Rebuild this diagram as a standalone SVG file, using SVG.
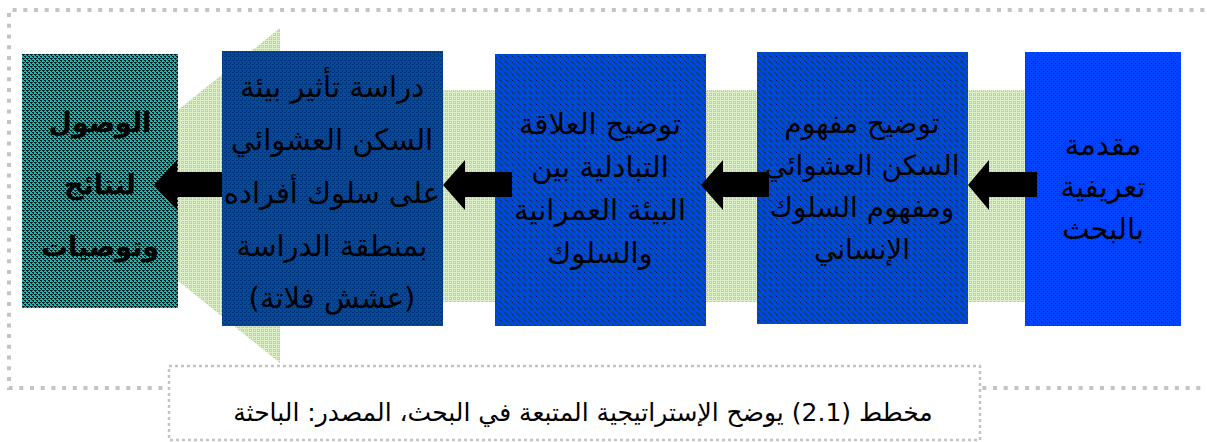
<svg xmlns="http://www.w3.org/2000/svg" width="1207" height="442" viewBox="0 0 1207 442">
<style>
.t{font-family:"DejaVu Sans","Noto Sans",sans-serif;fill:#000;text-anchor:middle;direction:rtl}
.arr{fill:#000}
</style>
<defs>
<pattern id="pGreen" patternUnits="userSpaceOnUse" width="4" height="4">
<rect width="4" height="4" fill="#b4e07e"/>
<rect x="0" y="0" width="4" height="1" fill="#dcf2c4"/>
<rect x="0" y="0" width="1" height="4" fill="#dcf2c4"/>
<rect x="2" y="2" width="1" height="1" fill="#f2fae8"/>
</pattern>
<pattern id="pB1" patternUnits="userSpaceOnUse" width="4" height="4">
<rect width="4" height="4" fill="#0044ff"/>
<rect x="1" y="1" width="1" height="1" fill="#003a50"/>
<rect x="3" y="3" width="1" height="1" fill="#0030a0"/>
</pattern>
<pattern id="pB2" patternUnits="userSpaceOnUse" width="6" height="6">
<rect width="6" height="6" fill="#0044f0"/>
<rect x="0" y="0" width="2" height="2" fill="#00506a"/>
<rect x="3" y="3" width="2" height="2" fill="#00506a"/>
<rect x="2" y="2" width="1" height="1" fill="#002040"/>
</pattern>
<pattern id="pB4" patternUnits="userSpaceOnUse" width="4" height="4">
<rect width="4" height="4" fill="#004aa0"/>
<rect x="0" y="0" width="2" height="1" fill="#003070"/>
<rect x="2" y="2" width="1" height="2" fill="#003070"/>
<rect x="1" y="3" width="1" height="1" fill="#0040ff"/>
</pattern>
<pattern id="pTeal" patternUnits="userSpaceOnUse" width="4" height="4">
<rect width="4" height="4" fill="#00c0c0"/>
<rect x="0" y="0" width="2" height="1" fill="#001818"/>
<rect x="2" y="2" width="2" height="1" fill="#001818"/>
<rect x="1" y="1" width="1" height="1" fill="#002828"/>
<rect x="3" y="3" width="1" height="1" fill="#002828"/>
<rect x="0" y="2" width="1" height="1" fill="#004848"/>
</pattern>
</defs>

<path d="M1215,10 H9 V388 H1215" fill="none" stroke="#c4c4c4" stroke-width="4" stroke-dasharray="4 6.7"/>

<g id="background-arrow">
<polygon points="280,28 280,90 1025,90 1025,302 280,302 280,363 72,195.5" fill="url(#pGreen)"/>
</g>

<g id="n1">
<rect x="1025" y="52" width="156" height="274" fill="url(#pB1)"/>
<text class="t" font-size="29" x="1103"><tspan x="1103" y="155">مقدمة</tspan><tspan x="1103" y="197">تعريفية</tspan><tspan x="1103" y="239">بالبحث</tspan></text>
</g>
<g id="n2">
<rect x="757" y="52" width="211" height="272" fill="url(#pB2)"/>
<text class="t" font-size="28" x="862"><tspan x="862" y="133">توضيح مفهوم</tspan><tspan x="862" y="175">السكن العشوائي</tspan><tspan x="862" y="217">ومفهوم السلوك</tspan><tspan x="862" y="259">الإنساني</tspan></text>
</g>
<g id="n3">
<rect x="495" y="54" width="211" height="272" fill="url(#pB2)"/>
<text class="t" font-size="29" x="600"><tspan x="600" y="134">توضيح العلاقة</tspan><tspan x="600" y="177">التبادلية بين</tspan><tspan x="600" y="220">البيئة العمرانية</tspan><tspan x="600" y="263">والسلوك</tspan></text>
</g>
<g id="n4">
<rect x="222" y="51" width="221" height="275" fill="url(#pB4)"/>
<text class="t" font-size="29" x="332"><tspan x="332" y="97">دراسة تأثير بيئة</tspan><tspan x="332" y="150">السكن العشوائي</tspan><tspan x="332" y="203">على سلوك أفراده</tspan><tspan x="332" y="256">بمنطقة الدراسة</tspan><tspan x="332" y="308">(عشش فلاتة)</tspan></text>
</g>
<g id="n5">
<rect x="22" y="54" width="156" height="254" fill="url(#pTeal)"/>
<text class="t" font-size="27" font-weight="bold" x="100"><tspan x="100" y="132">الوصول</tspan><tspan x="100" y="194">لنتائج</tspan><tspan x="100" y="256">وتوصيات</tspan></text>
</g>

<g id="connectors">
<polygon class="arr" points="968,185 989,160 989,172 1037,172 1037,197 989,197 989,210"/>
<polygon class="arr" points="701,185 723,160 723,172 769,172 769,197 723,197 723,210"/>
<polygon class="arr" points="443,185 465,160 465,172 512,172 512,197 465,197 465,210"/>
<polygon class="arr" points="154,185 177,160 177,172 222,172 222,197 177,197 177,210"/>
</g>

<g id="caption">
<rect x="169" y="366" width="811" height="74" fill="#ffffff" stroke="#c4c4c4" stroke-width="2.5" stroke-dasharray="3 3"/>
<text class="t" font-size="25" x="583" y="421">مخطط (2.1) يوضح الإستراتيجية المتبعة في البحث، المصدر: الباحثة</text>
</g>
</svg>
